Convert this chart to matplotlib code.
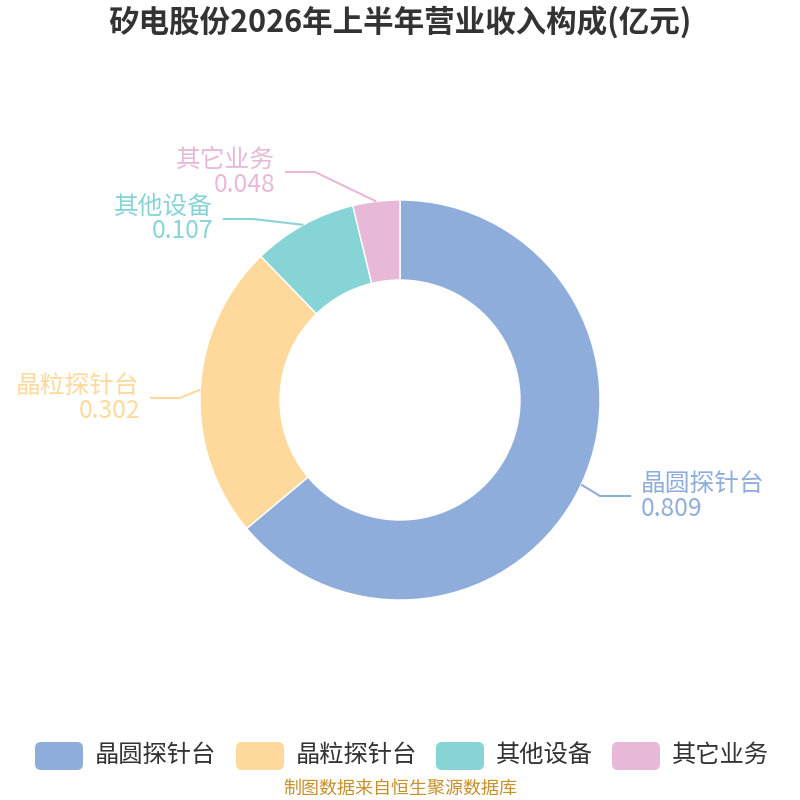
import numpy as np
import matplotlib.pyplot as plt
from matplotlib.patches import FancyBboxPatch

plt.rcParams['font.family'] = ['Noto Sans CJK SC', 'DejaVu Sans']

# data
names = ['晶圆探针台', '晶粒探针台', '其他设备', '其它业务']
values = [0.809, 0.302, 0.107, 0.048]
colors = ['#8faddb', '#ffd99b', '#87d4d7', '#e7b8d7']
title = '矽电股份2026年上半年营业收入构成(亿元)'
source = '制图数据来自恒生聚源数据库'

# label layout in pixels (elbow x, line y, end x, side)
label_pos = [(600, 496, 631, 'right'),
             (180, 398, 150, 'left'),
             (253, 219, 223, 'left'),
             (315, 172, 285, 'left')]

H = 800
fig = plt.figure(figsize=(8, 8), dpi=100)
ax = fig.add_axes([0, 0, 1, 1])

cx, cy, R = 400, 400, 200
ax.pie(values, colors=colors, startangle=90, counterclock=False,
       center=(cx, H - cy), radius=R,
       wedgeprops=dict(width=80, edgecolor='white', linewidth=1))
ax.set_xlim(0, 800)
ax.set_ylim(0, 800)
ax.set_aspect('equal')
ax.axis('off')

# leader lines and labels
total = sum(values)
cum = 0
for name, v, c, (ex, ly, tx, side) in zip(names, values, colors, label_pos):
    mid = (cum + v / 2) / total
    cum += v
    ang = np.deg2rad(90 - mid * 360)
    sx = cx + R * np.cos(ang)
    sy = H - cy + R * np.sin(ang)
    ax.plot([sx, ex, tx], [sy, H - ly, H - ly], color=c, lw=1.5,
            solid_capstyle='butt')
    if side == 'right':
        x_text = tx + 10
        ha = 'left'
    else:
        x_text = tx - 10
        ha = 'right'
    ax.text(x_text, H - ly, f'{name}\n{v:.3f}', color=c, fontsize=17.8,
            ha=ha, va='center', multialignment=ha, linespacing=0.95)

# title
ax.text(400, H - 22, title, fontsize=22, fontweight='bold', color='#333333',
        ha='center', va='center')

# legend
box_x = [35, 236, 436, 612]
for bx, name, c in zip(box_x, names, colors):
    ax.add_patch(FancyBboxPatch((bx, H - 770), 48, 28,
                                boxstyle='round,pad=0,rounding_size=6',
                                fc=c, ec='none'))
    ax.text(bx + 60, H - 755, name, fontsize=17.5, color='#333333',
            ha='left', va='center')

ax.text(400, H - 789, source, fontsize=13, color='#c8902a',
        ha='center', va='center')

fig.savefig('out.png', dpi=100)
